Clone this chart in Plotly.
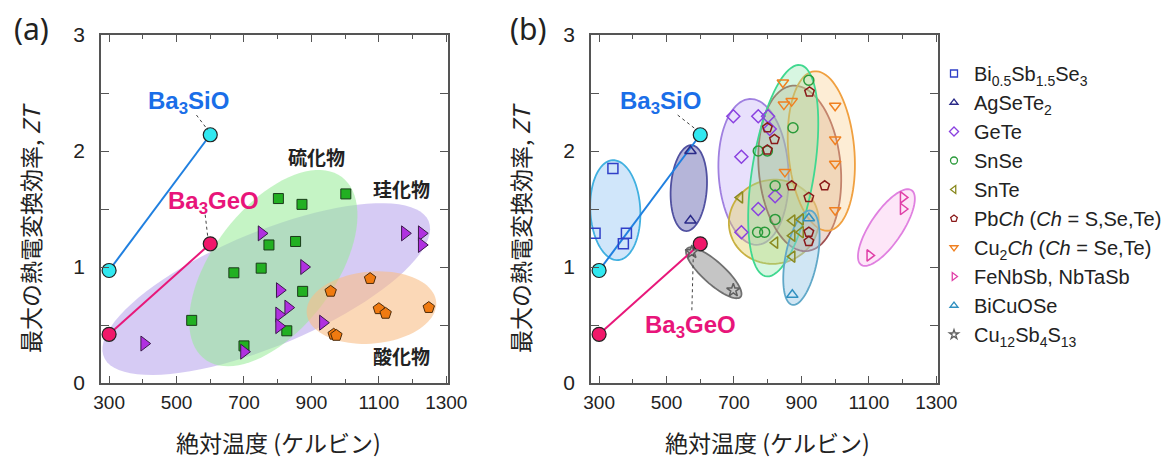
import numpy as np
import plotly.graph_objects as go

# ---------------- data ----------------
# Ba3SiO / Ba3GeO (both panels)
ba_T = [300, 600]
ba3sio_zt = [0.97, 2.14]
ba3geo_zt = [0.42, 1.20]

# panel (a)
sulf_T = [802, 872, 1002, 774, 853, 670, 751, 874, 545, 827, 700]
sulf_zt = [1.59, 1.54, 1.63, 1.19, 1.22, 0.95, 0.99, 0.79, 0.54, 0.45, 0.32]
sil_T = [752, 878, 806, 831, 804, 804, 700, 404, 934, 1177, 1227, 1227]
sil_zt = [1.29, 1.00, 0.80, 0.65, 0.59, 0.49, 0.27, 0.34, 0.52, 1.29, 1.29, 1.19]
oxi_T = [957, 1074, 1100, 1120, 1248, 966, 974]
oxi_zt = [0.79, 0.90, 0.64, 0.60, 0.65, 0.42, 0.41]

# panel (b)
names_b = ["Bi<sub>0.5</sub>Sb<sub>1.5</sub>Se<sub>3</sub>", "AgSeTe<sub>2</sub>", "GeTe", "SnSe", "SnTe",
           "Pb<i>Ch</i> (<i>Ch</i> = S,Se,Te)", "Cu<sub>2</sub><i>Ch</i> (<i>Ch</i> = Se,Te)",
           "FeNbSb, NbTaSb", "BiCuOSe", "Cu<sub>12</sub>Sb<sub>4</sub>S<sub>13</sub>"]
bisbse_T = [341, 288, 381, 372]
bisbse_zt = [1.85, 1.29, 1.29, 1.20]
agsete_T = [571, 571]
agsete_zt = [2.00, 1.40]
gete_T = [698, 772, 801, 722, 806, 822, 772, 722]
gete_zt = [2.30, 2.30, 2.30, 1.95, 2.19, 1.61, 1.50, 1.30]
snse_T = [922, 875, 772, 799, 822, 822, 770, 791]
snse_zt = [2.61, 2.20, 2.00, 2.00, 1.70, 1.41, 1.30, 1.30]
snte_T = [718, 822, 873, 898, 873, 898, 873]
snte_zt = [1.60, 1.21, 1.40, 1.41, 1.27, 1.30, 1.09]
pbch_T = [924, 799, 820, 799, 871, 969, 922, 922, 922]
pbch_zt = [2.51, 2.20, 2.10, 2.01, 1.70, 1.70, 1.60, 1.30, 1.22]
cu2ch_T = [845, 848, 871, 1000, 1000, 1000, 851, 1000]
cu2ch_zt = [2.59, 2.40, 2.43, 2.39, 2.10, 1.89, 1.82, 1.49]
hh_T = [1201, 1201, 1102]
hh_zt = [1.60, 1.50, 1.10]
bicuose_T = [922, 873]
bicuose_zt = [1.42, 0.76]
cusbs_T = [575, 698]
cusbs_zt = [1.13, 0.80]

symbols_b = ["square-open", "triangle-up-open", "diamond-open", "circle-open", "triangle-left-open",
             "pentagon-open", "triangle-down-open", "triangle-right-open", "triangle-up-open", "star-open"]
colors_b = ["#3040c8", "#2a2a88", "#8a40e0", "#2a9a3a", "#8a8a20",
            "#8a1a1a", "#f08020", "#e040a8", "#3090c0", "#606060"]
series_b = [(bisbse_T, bisbse_zt), (agsete_T, agsete_zt), (gete_T, gete_zt), (snse_T, snse_zt),
            (snte_T, snte_zt), (pbch_T, pbch_zt), (cu2ch_T, cu2ch_zt), (hh_T, hh_zt),
            (bicuose_T, bicuose_zt), (cusbs_T, cusbs_zt)]

# ellipse groups: (center T, center ZT, semi-axis a px, semi-axis b px, angle deg, fill, line)
ell_a = [
    (766, 0.81, 176, 57, 22.7, "rgba(180,160,235,0.55)", None),
    (787, 0.99, 114, 61, 53, "rgba(150,235,150,0.55)", None),
    (1078, 0.65, 65, 36, 5, "rgba(248,190,135,0.6)", None),
]
ell_b = [
    (348, 1.49, 50, 25, 93, "rgba(150,200,245,0.45)", "#40b0e0"),
    (566, 1.68, 43, 18, 86, "rgba(90,90,170,0.45)", "#5050a0"),
    (758, 1.82, 73, 35, 93, "rgba(190,165,245,0.35)", "#a080e0"),
    (818, 1.39, 45, 42, 10, "rgba(225,205,90,0.4)", "#c8b040"),
    (895, 1.85, 83, 41, 95, "rgba(200,150,130,0.35)", "#a05050"),
    (959, 2.00, 80, 33, 95, "rgba(250,210,150,0.4)", "#f0a040"),
    (846, 1.83, 107, 31, 80.8, "rgba(140,230,170,0.35)", "#40d890"),
    (900, 1.08, 48, 16, 79, "rgba(150,200,230,0.45)", "#60a8c8"),
    (1152, 1.34, 45, 16, 56, "rgba(250,200,240,0.45)", "#e080e0"),
    (640, 0.95, 36, 11, -42, "rgba(150,150,150,0.55)", "#707070"),
]

# ---------------- geometry ----------------
W, H = 1174, 459
OFF = 8  # page body margin of the html page
XR = [276, 1305]
YR = [0, 3]


def px(xp):
    return (xp - OFF) / W


def py(yp):
    return (H - (yp - OFF)) / H


dom_a = [px(101), px(448)]
dom_b = [px(591), px(938)]
dom_y = [py(383), py(35)]
pw = 347.0
ph = 348.0
kx = pw / (XR[1] - XR[0])
ky = ph / (YR[1] - YR[0])

fontname = "Liberation Sans, Arial, sans-serif"
jfont = "Noto Sans CJK JP, sans-serif"

fig = go.Figure()


def ellipse_path(cx, cy, a, b, ang):
    t = np.linspace(0, 2 * np.pi, 90)
    th = np.radians(ang)
    dx = a * np.cos(t) * np.cos(th) - b * np.sin(t) * np.sin(th)
    dy = a * np.cos(t) * np.sin(th) + b * np.sin(t) * np.cos(th)
    xs = cx + dx / kx
    ys = cy + dy / ky
    p = "M " + " L ".join(f"{x:.2f},{y:.4f}" for x, y in zip(xs, ys)) + " Z"
    return p


for (cx, cy, a, b, ang, fc, lc) in ell_a:
    fig.add_shape(type="path", path=ellipse_path(cx, cy, a, b, ang), xref="x", yref="y",
                  fillcolor=fc, line=dict(width=0), layer="below")
for (cx, cy, a, b, ang, fc, lc) in ell_b:
    fig.add_shape(type="path", path=ellipse_path(cx, cy, a, b, ang), xref="x2", yref="y2",
                  fillcolor=fc, line=dict(width=1.8, color=lc), layer="below")

for xa, ya in (("x", "y"), ("x2", "y2")):
    fig.add_trace(go.Scatter(x=ba_T, y=ba3sio_zt, xaxis=xa, yaxis=ya, mode="lines+markers",
                             line=dict(color="#2080e0", width=2),
                             marker=dict(size=14, color="#30e8f0", line=dict(color="#222", width=1.2)),
                             showlegend=False))
    fig.add_trace(go.Scatter(x=ba_T, y=ba3geo_zt, xaxis=xa, yaxis=ya, mode="lines+markers",
                             line=dict(color="#e8187a", width=2),
                             marker=dict(size=14, color="#f0186a", line=dict(color="#222", width=1.2)),
                             showlegend=False))

# panel (a) markers
fig.add_trace(go.Scatter(x=sulf_T, y=sulf_zt, mode="markers", xaxis="x", yaxis="y",
                         marker=dict(symbol="square", size=10, color="#22b022", line=dict(color="#1a3a1a", width=1)),
                         showlegend=False))
fig.add_trace(go.Scatter(x=sil_T, y=sil_zt, mode="markers", xaxis="x", yaxis="y",
                         marker=dict(symbol="triangle-right", size=13, color="#b030e0", line=dict(color="#3a1a4a", width=1)),
                         showlegend=False))
fig.add_trace(go.Scatter(x=oxi_T, y=oxi_zt, mode="markers", xaxis="x", yaxis="y",
                         marker=dict(symbol="pentagon", size=12, color="#f07a10", line=dict(color="#4a2a0a", width=1)),
                         showlegend=False))

# panel (b) markers
for i, (nm, sym, col, (tx, zy)) in enumerate(zip(names_b, symbols_b, colors_b, series_b)):
    fig.add_trace(go.Scatter(x=tx, y=zy, mode="markers", xaxis="x2", yaxis="y2",
                             marker=dict(symbol=sym, size=10, color=col, line=dict(color=col, width=1.5)),
                             showlegend=False))
    fig.add_trace(go.Scatter(x=[None], y=[None], mode="markers", xaxis="x2", yaxis="y2", name=nm,
                             legendgroup=f"g{i}",
                             marker=dict(symbol=sym, size=7, color=col, line=dict(color=col, width=1.3)),
                             showlegend=True))

axis_common = dict(range=XR, showgrid=False, zeroline=False, showline=True, linecolor="#555", linewidth=1.5,
                   mirror="allticks", ticks="inside", ticklen=7, tickcolor="#555", tickwidth=1.3,
                   tickvals=[300, 500, 700, 900, 1100, 1300], tickfont=dict(family=fontname, size=19, color="#222"),
                   minor=dict(dtick=100, tick0=300, ticklen=4, ticks="inside", tickcolor="#555", tickwidth=1.3),
                   ticklabelstandoff=1, fixedrange=True, automargin=False)
yaxis_common = dict(range=YR, showgrid=False, zeroline=False, showline=True, linecolor="#555", linewidth=1.5,
                    mirror="allticks", ticks="inside", ticklen=8, tickcolor="#555", tickwidth=1.3,
                    tickvals=[0, 1, 2, 3], tickfont=dict(family=fontname, size=21, color="#222"),
                    minor=dict(dtick=0.5, ticklen=8, ticks="inside", tickcolor="#555", tickwidth=1.3),
                    ticklabelstandoff=10, fixedrange=True, automargin=False)

fig.update_layout(
    width=W, height=H, margin=dict(l=0, r=0, t=0, b=0, autoexpand=False),
    paper_bgcolor="white", plot_bgcolor="white",
    xaxis=dict(domain=dom_a, anchor="y", **axis_common),
    yaxis=dict(domain=dom_y, anchor="x", **yaxis_common),
    xaxis2=dict(domain=dom_b, anchor="y2", **axis_common),
    yaxis2=dict(domain=dom_y, anchor="x2", **yaxis_common),
    legend=dict(x=px(934), y=py(54), xanchor="left", yanchor="top",
                font=dict(family=fontname, size=20, color="#222"),
                tracegroupgap=0, itemwidth=30, bgcolor="rgba(0,0,0,0)"),
    showlegend=True,
)

ann = []
ctr = dict(xanchor="center", yanchor="middle", showarrow=False)
# panel labels
ann.append(dict(text="(a)", x=px(31), y=py(28), xref="paper", yref="paper",
                font=dict(family="Noto Sans, sans-serif", size=30, color="#222"), **ctr))
ann.append(dict(text="(b)", x=px(528), y=py(28), xref="paper", yref="paper",
                font=dict(family="Noto Sans, sans-serif", size=30, color="#222"), **ctr))
for xc in (30, 520):
    ann.append(dict(text="最大の熱電変換効率, <i>ZT</i>", x=px(xc), y=py(228), xref="paper", yref="paper",
                    textangle=-90, font=dict(family=jfont, size=23, color="#222"), **ctr))
for xc in (278, 768):
    ann.append(dict(text="絶対温度 (ケルビン)", x=px(xc), y=py(442), xref="paper", yref="paper",
                    font=dict(family=jfont, size=23, color="#222"), **ctr))

# Ba labels with dotted leader lines
lab_font = dict(family=fontname, size=24)
ann.append(dict(text="<b>Ba<sub>3</sub>SiO</b>", x=534, y=2.42, xref="x", yref="y",
                font=dict(color="#1a6ee8", **lab_font), **ctr))
ann.append(dict(text="<b>Ba<sub>3</sub>GeO</b>", x=610, y=1.56, xref="x", yref="y",
                font=dict(color="#e8157a", **lab_font), **ctr))
ann.append(dict(text="<b>Ba<sub>3</sub>SiO</b>", x=481, y=2.42, xref="x2", yref="y2",
                font=dict(color="#1a6ee8", **lab_font), **ctr))
ann.append(dict(text="<b>Ba<sub>3</sub>GeO</b>", x=572, y=0.49, xref="x2", yref="y2",
                font=dict(color="#e8157a", **lab_font), **ctr))
for t, xx, yy in (("硫化物", 915, 1.95), ("珪化物", 1167, 1.68), ("酸化物", 1167, 0.24)):
    ann.append(dict(text=f"<b>{t}</b>", x=xx, y=yy, xref="x", yref="y",
                    font=dict(family=jfont, size=19, color="#222"), **ctr))
fig.update_layout(annotations=ann)

leaders = [("x", "y", 559, 2.31, 593, 2.18), ("x", "y", 585, 1.45, 593, 1.25),
           ("x2", "y2", 533, 2.31, 590, 2.18), ("x2", "y2", 580, 1.17, 575, 0.62)]
for xr, yr, x0, y0, x1, y1 in leaders:
    fig.add_shape(type="line", xref=xr, yref=yr, x0=x0, y0=y0, x1=x1, y1=y1,
                  line=dict(color="#444", width=1, dash="dot"))

fig.write_html("out.html")
